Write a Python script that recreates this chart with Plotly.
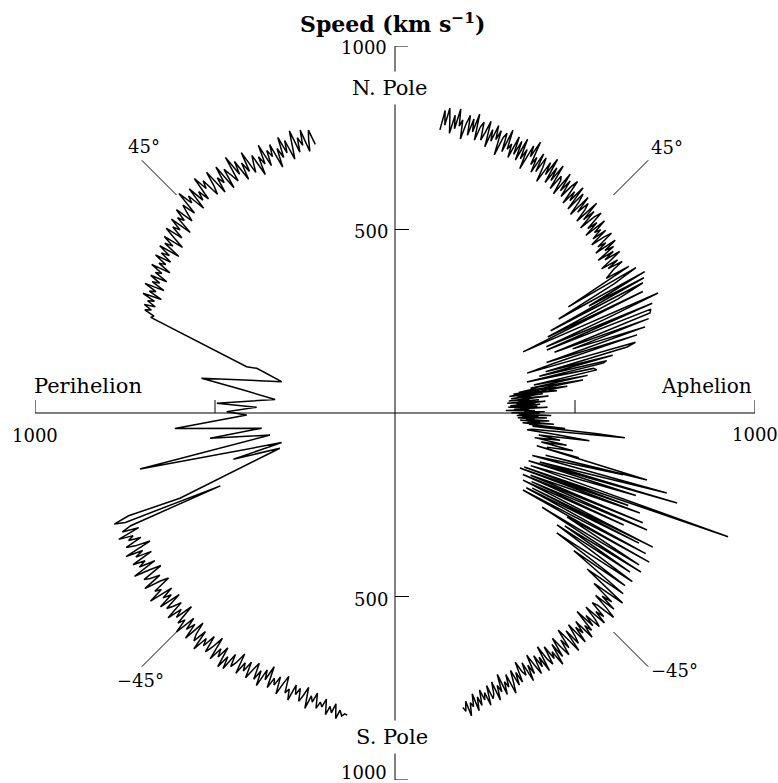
import plotly.graph_objects as go

W, H = 778, 783

# ---------------------------------------------------------------------------
# Solar wind speed versus heliographic latitude
# Aphelion pass (right half) and perihelion fast latitude scan (left half)
# ---------------------------------------------------------------------------

# Aphelion pass, ordered north -> south
aph_lat = [
    # fast wind, northern high latitudes
    81.0, 80.6, 80.2, 79.8, 79.4, 79.0, 78.6, 78.2, 77.8, 77.4,
    77.0, 76.6, 76.2, 75.8, 75.4, 75.0, 74.6, 74.2, 73.8, 73.4,
    73.0, 72.6, 72.2, 71.8, 71.4, 71.0, 70.6, 70.2, 69.8, 69.4,
    69.0, 68.6, 68.2, 67.8, 67.4, 67.0, 66.6, 66.2, 65.8, 65.4,
    65.0, 64.6, 64.2, 63.8, 63.4, 63.0, 62.6, 62.2, 61.8, 61.4,
    61.0, 60.6, 60.2, 59.8, 59.4, 59.0, 58.6, 58.2, 57.8, 57.4,
    57.0, 56.6, 56.2, 55.8, 55.4, 55.0, 54.6, 54.2, 53.8, 53.4,
    53.0, 52.6, 52.2, 51.8, 51.4, 51.0, 50.6, 50.2, 49.8, 49.4,
    49.0, 48.6, 48.2, 47.8, 47.4, 47.0, 46.6, 46.2, 45.8, 45.4,
    45.0, 44.6, 44.2, 43.8, 43.4, 43.0, 42.6, 42.2, 41.8, 41.4,
    41.0, 40.6, 40.2, 39.8, 39.4, 39.0, 38.6, 38.2, 37.8, 37.4,
    37.0, 36.6, 36.2, 35.8, 35.4, 35.0, 34.6, 34.2, 33.8, 33.4,
    33.0,
    # alternating fast / slow streams
    32.6, 32.2, 31.6, 31.2, 30.6, 30.0, 29.6, 29.0, 28.6, 28.0,
    27.8, 27.2, 26.6, 26.2, 25.7, 24.6, 24.2, 23.8, 23.2, 22.7,
    22.2, 21.5, 21.0, 20.5, 20.0, 19.1, 18.6, 18.0, 17.5, 17.0,
    16.5, 16.0, 15.5, 15.0, 14.5, 14.0, 13.6, 13.4, 12.8, 12.2,
    11.6, 11.2, 10.6, 10.1, 9.6, 9.0, 8.5, 8.0,
    # slow wind near the equator
    10.0, 9.7, 9.5, 9.2, 8.9, 8.7, 8.4, 8.1, 7.9, 7.6,
    7.3, 7.1, 6.8, 6.5, 6.3, 6.0, 5.7, 5.5, 5.2, 4.9,
    4.7, 4.4, 4.1, 3.9, 3.6, 3.3, 3.1, 2.8, 2.5, 2.3,
    2.0, 1.7, 1.5, 1.2, 0.9, 0.7, 0.4, 0.1, -0.1, -0.4,
    -0.7, -0.9, -1.2, -1.5, -1.7, -2.0, -2.3, -2.5, -2.8, -3.1,
    -3.3, -3.6, -3.9, -4.1, -4.4,
    -4.6, -5.0, -5.3, -5.7, -6.0, -6.5, -7.0, -7.5, -8.0, -8.5,
    -9.2, -9.8, -10.5, -11.0, -11.8, -12.5,
    # southern stream interaction region
    -13.0, -13.5, -12.8, -14.8, -15.5, -15.0, -17.0, -16.3, -18.5, -17.6,
    -19.5, -18.8, -21.0, -20.3, -22.5, -21.5, -23.6, -22.1, -24.5, -23.8,
    -25.5, -24.8, -26.5, -26.0, -27.5, -27.4, -28.5, -28.0, -29.5, -29.2,
    -30.9, -30.3, -31.0, -31.8, -32.5, -32.8, -33.5, -34.0, -34.5, -35.3,
    -36.4, -36.8, -37.5, -38.3, -39.0, -39.8, -40.5, -41.0,
    # fast wind, southern high latitudes
    -41.4, -41.8, -42.2, -42.6, -43.0, -43.4, -43.8, -44.2, -44.6, -45.0,
    -45.4, -45.8, -46.2, -46.6, -47.0, -47.4, -47.8, -48.2, -48.6, -49.0,
    -49.4, -49.8, -50.2, -50.6, -51.0, -51.4, -51.8, -52.2, -52.6, -53.0,
    -53.4, -53.8, -54.2, -54.6, -55.0, -55.4, -55.8, -56.2, -56.6, -57.0,
    -57.4, -57.8, -58.2, -58.6, -59.0, -59.4, -59.8, -60.2, -60.6, -61.0,
    -61.4, -61.8, -62.2, -62.6, -63.0, -63.4, -63.8, -64.2, -64.6, -65.0,
    -65.4, -65.8, -66.2, -66.6, -67.0, -67.4, -67.8, -68.2, -68.6, -69.0,
    -69.4, -69.8, -70.2, -70.6, -71.0, -71.4, -71.8, -72.2, -72.6, -73.0,
    -73.4, -73.8, -74.2, -74.6, -75.0, -75.4, -75.8, -76.2, -76.6, -77.0,
]
aph_speed = [
    790, 845, 805, 853, 820, 785, 837, 800, 857, 810,
    829, 776, 821, 846, 791, 839, 803, 856, 783, 823,
    838, 788, 812, 846, 774, 826, 794, 842, 803, 831,
    762, 815, 830, 778, 844, 790, 808, 770, 834, 784,
    826, 772, 838, 781, 812, 756, 829, 799, 847, 780,
    805, 762, 823, 770, 817, 790, 748, 812, 777, 830,
    758, 809, 771, 823, 752, 797, 787, 745, 816, 763,
    801, 752, 790, 812, 741, 785, 758, 808, 737, 795,
    772, 730, 797, 748, 785, 766, 728, 801, 744, 780,
    722, 770, 791, 735, 764, 718, 783, 741, 759, 726,
    768, 713, 752, 775, 722, 746, 707, 771, 731, 757,
    700, 748, 716, 762, 728, 694, 744, 709, 752, 720,
    705,
    690, 760, 560, 775, 700, 520, 790, 610, 780, 485,
    771, 690, 470, 760, 391, 796, 640, 455, 770, 453,
    760, 754, 470, 745, 520, 728, 440, 700, 457, 380,
    690, 664, 430, 620, 410, 600, 589, 373, 560, 568,
    390, 540, 379, 525, 395, 480, 370, 450,
    390, 345, 420, 330, 402, 360, 318, 395, 340, 410,
    322, 380, 352, 425, 315, 372, 340, 398, 310, 365,
    415, 335, 388, 318, 400, 350, 312, 392, 345, 420,
    328, 370, 305, 385, 355, 412, 320, 398, 340, 372,
    430, 335, 395, 350, 418, 338, 385, 360, 425, 345,
    400, 365, 438, 352, 395,
    370, 470, 380, 560, 636, 380, 366, 450, 540, 400,
    460, 390, 480, 410, 500, 430,
    430, 520, 400, 717, 430, 650, 395, 779, 420, 814,
    390, 700, 400, 977, 385, 690, 375, 727, 410, 745,
    390, 764, 420, 700, 397, 799, 430, 760, 415, 790,
    410, 810, 552, 790, 480, 805, 560, 780, 541, 800,
    553, 790, 620, 800, 680, 815, 720, 790,
    760, 808, 745, 790, 822, 768, 752, 801, 776, 815,
    748, 790, 812, 765, 798, 740, 805, 783, 820, 758,
    795, 770, 818, 752, 786, 809, 761, 825, 779, 746,
    803, 772, 818, 790, 755, 812, 768, 830, 785, 804,
    762, 815, 796, 752, 825, 779, 806, 768, 821, 790,
    757, 812, 783, 828, 770, 805, 792, 760, 818, 786,
    822, 775, 808, 838, 780, 815, 797, 832, 771, 820,
    799, 840, 785, 818, 830, 790, 845, 806, 826, 795,
    838, 812, 850, 800, 835, 822, 858, 815, 842, 830,
]

# Perihelion fast latitude scan, ordered north -> south
per_lat = [
    73.5, 73.0, 72.5, 72.0, 71.5, 71.0, 70.5, 70.0, 69.5, 69.0,
    68.5, 68.0, 67.5, 67.0, 66.5, 66.0, 65.5, 65.0, 64.5, 64.0,
    63.5, 63.0, 62.5, 62.0, 61.5, 61.0, 60.5, 60.0, 59.5, 59.0,
    58.5, 58.0, 57.5, 57.0, 56.5, 56.0, 55.5, 55.0, 54.5, 54.0,
    53.5, 53.0, 52.5, 52.0, 51.5, 51.0, 50.5, 50.0, 49.5, 49.0,
    48.5, 48.0, 47.5, 47.0, 46.5, 46.0, 45.5, 45.0, 44.5, 44.0,
    43.5, 43.0, 42.5, 42.0, 41.5, 41.0, 40.5, 40.0, 39.5, 39.0,
    38.5, 38.0, 37.5, 37.0, 36.5, 36.0, 35.5, 35.0, 34.5, 34.0,
    33.5, 33.0, 32.5, 32.0, 31.5, 31.0, 30.5, 30.0, 29.5, 29.0,
    28.5, 28.0, 27.5, 27.0, 26.5, 26.0, 25.5, 25.0, 24.5, 24.0,
    23.5, 23.0, 22.5, 22.0, 21.5,
    # low-latitude crossing
    17.5, 18.1, 15.7, 10.3, 8.8, 6.7, 3.3, 2.6, 0.6, -0.6, -3.9, -6.3,
    -7.6, -9.8, -12.3, -14.4, -15.8, -16.8, -21.5,
    # southern fast wind
    -21.0, -21.5, -22.0, -22.5, -23.0, -23.5, -24.0, -24.5, -25.0, -25.5,
    -26.0, -26.5, -27.0, -27.5, -28.0, -28.5, -29.0, -29.5, -30.0, -30.5,
    -31.0, -31.5, -32.0, -32.5, -33.0, -33.5, -34.0, -34.5, -35.0, -35.5,
    -36.0, -36.5, -37.0, -37.5, -38.0, -38.5, -39.0, -39.5, -40.0, -40.5,
    -41.0, -41.5, -42.0, -42.5, -43.0, -43.5, -44.0, -44.5, -45.0, -45.5,
    -46.0, -46.5, -47.0, -47.5, -48.0, -48.5, -49.0, -49.5, -50.0, -50.5,
    -51.0, -51.5, -52.0, -52.5, -53.0, -53.5, -54.0, -54.5, -55.0, -55.5,
    -56.0, -56.5, -57.0, -57.5, -58.0, -58.5, -59.0, -59.5, -60.0, -60.5,
    -61.0, -61.5, -62.0, -62.5, -63.0, -63.5, -64.0, -64.5, -65.0, -65.5,
    -66.0, -66.5, -67.0, -67.5, -68.0, -68.5, -69.0, -69.5, -70.0, -70.5,
    -71.0, -71.5, -72.0, -72.5, -73.0, -73.5, -74.0, -74.5, -75.0, -75.5,
    -76.0, -76.5, -77.0, -77.5, -78.0, -78.5, -79.0, -79.5, -80.0, -80.5,
    -81.0,
]
per_speed = [
    772, 815, 790, 758, 822, 780, 805, 765, 830, 788,
    752, 810, 776, 825, 768, 798, 745, 816, 783, 805,
    762, 828, 774, 800, 748, 812, 790, 766, 833, 777,
    808, 760, 822, 785, 845, 772, 796, 820, 763, 838,
    790, 812, 768, 842, 800, 776, 830, 808, 850, 782,
    815, 790, 838, 772, 825, 805, 848, 780, 818, 796,
    770, 822, 786, 805, 752, 815, 778, 798, 760, 810,
    776, 742, 800, 765, 788, 735, 795, 758, 780, 745,
    790, 752, 770, 730, 785, 748, 765, 725, 772, 740,
    760, 720, 775, 738, 755, 715, 768, 730, 748, 722,
    752, 728, 745, 715, 722,
    428, 400, 324, 541, 422, 332, 491, 381, 463, 408, 607, 369,
    513, 349, 718, 322, 462, 331, 636,
    785, 830, 800, 520, 790, 818, 772, 835, 795, 812,
    778, 826, 802, 760, 838, 790, 815, 770, 832, 798,
    820, 775, 845, 800, 768, 828, 812, 785, 840, 795,
    770, 822, 805, 848, 780, 815, 792, 836, 775, 826,
    808, 785, 840, 798, 822, 772, 830, 810, 850, 790,
    826, 800, 845, 782, 818, 835, 795, 852, 808, 828,
    790, 838, 815, 780, 845, 805, 828, 792, 850, 812,
    846, 795, 830, 812, 780, 838, 800, 822, 790, 835,
    805, 782, 828, 798, 840, 788, 815, 772, 832, 800,
    818, 790, 838, 805, 780, 826, 812, 842, 795, 820,
    800, 835, 815, 790, 848, 810, 826, 798, 840, 820,
    832, 808, 850, 825, 842, 815, 855, 830, 845, 838,
    840,
]

# +/-45 degree latitude markers, drawn between these speeds
marker_speed = [850, 985]
marker_lat = [45, -45]

# Frame tick values (km/s)
tick_major = 1000
tick_minor = 500

FONT = "DejaVu Serif"
INK = "black"
DATA_W = 1.5

fig = go.Figure()

# --- data on a polar subplot: angle = latitude, radius = speed ---
fig.add_trace(go.Scatterpolar(
    r=aph_speed, theta=aph_lat, mode="lines",
    line=dict(color=INK, width=DATA_W), hoverinfo="skip", showlegend=False,
))
fig.add_trace(go.Scatterpolar(
    r=per_speed, theta=[180 - a for a in per_lat], mode="lines",
    line=dict(color=INK, width=DATA_W), hoverinfo="skip", showlegend=False,
))
for lat in marker_lat:
    for th in (lat, 180 - lat):
        fig.add_trace(go.Scatterpolar(
            r=marker_speed, theta=[th, th], mode="lines",
            line=dict(color=INK, width=1), hoverinfo="skip", showlegend=False,
        ))

# --- the cross-shaped speed axes on a cartesian overlay ---
fig.add_trace(go.Scatter(
    x=[-tick_major, tick_major], y=[0, 0], mode="lines",
    line=dict(color=INK, width=1), hoverinfo="skip", showlegend=False,
))
fig.add_trace(go.Scatter(
    x=[0, 0], y=[-tick_major, tick_major], mode="lines",
    line=dict(color=INK, width=1), hoverinfo="skip", showlegend=False,
))

shapes = []
# ticks on the horizontal axis, pointing up
for xv in (-tick_major, -tick_minor, tick_minor, tick_major):
    shapes.append(dict(type="line", xref="x", yref="y", x0=xv, x1=xv,
                       ysizemode="pixel", yanchor=0, y0=0, y1=13,
                       line=dict(color=INK, width=1)))
# ticks on the vertical axis, pointing right
for yv in (-tick_major, -tick_minor, tick_minor, tick_major):
    ln = 13 if abs(yv) == tick_major else 14
    shapes.append(dict(type="line", xref="x", yref="y", y0=yv, y1=yv,
                       xsizemode="pixel", xanchor=0, x0=0, x1=ln,
                       line=dict(color=INK, width=1)))


def px(x):
    return x / W


def py(y):
    return 1 - y / H


def label(text, x, y, size, xanchor="center", bg=None, pad=0):
    d = dict(text=text, x=px(x), y=py(y), xref="paper", yref="paper",
             xanchor=xanchor, yanchor="middle", showarrow=False,
             font=dict(family=FONT, size=size, color=INK), borderpad=pad)
    if bg:
        d["bgcolor"] = bg
    return d


annotations = [
    label("<b>Speed (km s<sup>−1</sup>)</b>", 392, 23, 22),
    label("1000", 388, 48, 18, xanchor="right"),
    label("N. Pole", 390, 88, 21, bg="white", pad=4),
    label("500", 389, 231, 18, xanchor="right"),
    label("Perihelion", 88, 386, 21),
    label("Aphelion", 706, 386, 20),
    label("1000", 35, 435, 18),
    label("1000", 755, 434, 18),
    label("500", 389, 599, 18, xanchor="right"),
    label("S. Pole", 392, 737, 21, bg="white", pad=4),
    label("1000", 388, 772, 18, xanchor="right"),
    label("45°", 144, 146, 18),
    label("45°", 667, 147, 18),
    label("−45°", 140, 680, 18),
    label("−45°", 674, 670, 18),
]

cx, cy, R = 395, 413.5, 363.5

fig.update_layout(
    width=W, height=H, autosize=False,
    margin=dict(l=0, r=0, t=0, b=0),
    paper_bgcolor="white", plot_bgcolor="rgba(0,0,0,0)",
    showlegend=False,
    polar=dict(
        domain=dict(x=[px(cx - R), px(cx + R)], y=[py(cy + R), py(cy - R)]),
        bgcolor="rgba(0,0,0,0)",
        radialaxis=dict(range=[0, tick_major], visible=False,
                        showgrid=False, showline=False, showticklabels=False),
        angularaxis=dict(visible=False, showgrid=False, showline=False,
                         showticklabels=False, rotation=0,
                         direction="counterclockwise"),
    ),
    xaxis=dict(domain=[px(35), px(755)], range=[-tick_major, tick_major],
               visible=False, fixedrange=True),
    yaxis=dict(domain=[py(780), py(46)], range=[-tick_major, tick_major],
               visible=False, fixedrange=True),
    shapes=shapes,
    annotations=annotations,
)

fig.write_html("out.html")
